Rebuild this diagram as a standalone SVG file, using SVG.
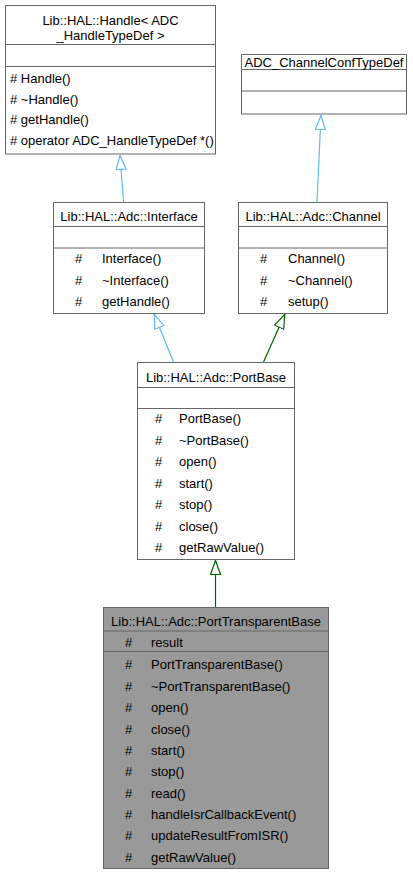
<svg xmlns="http://www.w3.org/2000/svg" width="413" height="875" viewBox="0 0 413 875">
<style>
text{font-family:"Liberation Sans",Arial,sans-serif;font-size:13px;fill:#000}
.box{fill:#fff;stroke:#666;stroke-width:1}
.cur{fill:#999;stroke:#666;stroke-width:1}
.div{stroke:#666;stroke-width:1}
.t{text-anchor:middle}
.pub{fill:none;stroke:#63b8ff;stroke-width:1.2}
.pro{fill:none;stroke:#006400;stroke-width:1.2}
</style>
<defs>
<marker id="ab" viewBox="0 0 15 11" refX="15" refY="5.5" markerWidth="15" markerHeight="11" markerUnits="userSpaceOnUse" orient="auto">
<path d="M0.5,0.5 L14.5,5.5 L0.5,10.5 Z" fill="#fff" stroke="#63b8ff" stroke-width="1.2"/>
</marker>
<marker id="ag" viewBox="0 0 15 11" refX="15" refY="5.5" markerWidth="15" markerHeight="11" markerUnits="userSpaceOnUse" orient="auto">
<path d="M0.5,0.5 L14.5,5.5 L0.5,10.5 Z" fill="#fff" stroke="#006400" stroke-width="1.2"/>
</marker>
</defs>
<g id="edges">
<path class="pub" d="M123.5,202 L120,155" marker-end="url(#ab)"/>
<path class="pub" d="M317,202 L321,115" marker-end="url(#ab)"/>
<path class="pub" d="M173.5,362 L154,314" marker-end="url(#ab)"/>
<path class="pro" d="M263.5,362 L285,314" marker-end="url(#ag)"/>
<path class="pro" d="M215.5,607 L215.5,560" marker-end="url(#ag)"/>
</g>
<g id="node-handle">
<rect class="box" x="5.5" y="5.5" width="210" height="148.5"/>
<line class="div" x1="5.5" y1="44.5" x2="215.5" y2="44.5"/>
<line class="div" x1="5.5" y1="66.5" x2="215.5" y2="66.5"/>
<text class="t" x="110.5" y="25">Lib::HAL::Handle&lt; ADC</text>
<text class="t" x="110.5" y="40">_HandleTypeDef &gt;</text>
<text x="10" y="83"># Handle()</text>
<text x="10" y="103.5"># ~Handle()</text>
<text x="10" y="124"># getHandle()</text>
<text x="10" y="144.5"># operator ADC_HandleTypeDef *()</text>
</g>
<g id="node-adcconf">
<rect class="box" x="241.5" y="54.5" width="165" height="59.5"/>
<line class="div" x1="241.5" y1="69.5" x2="406.5" y2="69.5"/>
<line class="div" x1="241.5" y1="91" x2="406.5" y2="91"/>
<text class="t" x="324" y="66.5">ADC_ChannelConfTypeDef</text>
</g>
<g id="node-interface">
<rect class="box" x="53.5" y="202.5" width="151" height="111"/>
<line class="div" x1="53.5" y1="226.5" x2="204.5" y2="226.5"/>
<line class="div" x1="53.5" y1="248" x2="204.5" y2="248"/>
<text class="t" x="129" y="221">Lib::HAL::Adc::Interface</text>
<text x="75" y="263">#</text><text x="102" y="263">Interface()</text>
<text x="75" y="284.5">#</text><text x="102" y="284.5">~Interface()</text>
<text x="75" y="306">#</text><text x="102" y="306">getHandle()</text>
</g>
<g id="node-channel">
<rect class="box" x="238.5" y="202.5" width="149" height="111"/>
<line class="div" x1="238.5" y1="226.5" x2="387.5" y2="226.5"/>
<line class="div" x1="238.5" y1="248" x2="387.5" y2="248"/>
<text class="t" x="313" y="221">Lib::HAL::Adc::Channel</text>
<text x="260" y="263">#</text><text x="288" y="263">Channel()</text>
<text x="260" y="284.5">#</text><text x="288" y="284.5">~Channel()</text>
<text x="260" y="306">#</text><text x="288" y="306">setup()</text>
</g>
<g id="node-portbase">
<rect class="box" x="137.5" y="362.5" width="157" height="197"/>
<line class="div" x1="137.5" y1="387.5" x2="294.5" y2="387.5"/>
<line class="div" x1="137.5" y1="408.5" x2="294.5" y2="408.5"/>
<text class="t" x="216" y="381.5">Lib::HAL::Adc::PortBase</text>
<text x="155" y="423">#</text><text x="179" y="423">PortBase()</text>
<text x="155" y="444.5">#</text><text x="179" y="444.5">~PortBase()</text>
<text x="155" y="466">#</text><text x="179" y="466">open()</text>
<text x="155" y="487.5">#</text><text x="179" y="487.5">start()</text>
<text x="155" y="509">#</text><text x="179" y="509">stop()</text>
<text x="155" y="530.5">#</text><text x="179" y="530.5">close()</text>
<text x="155" y="552">#</text><text x="179" y="552">getRawValue()</text>
</g>
<g id="node-porttransparentbase">
<rect class="cur" x="103.5" y="607.5" width="225" height="261"/>
<line class="div" x1="103.5" y1="631" x2="328.5" y2="631"/>
<line class="div" x1="103.5" y1="651.5" x2="328.5" y2="651.5"/>
<text class="t" x="216" y="626">Lib::HAL::Adc::PortTransparentBase</text>
<text x="125" y="647">#</text><text x="151" y="647">result</text>
<text x="125" y="669">#</text><text x="151" y="669">PortTransparentBase()</text>
<text x="125" y="690.5">#</text><text x="151" y="690.5">~PortTransparentBase()</text>
<text x="125" y="711.5">#</text><text x="151" y="711.5">open()</text>
<text x="125" y="733.5">#</text><text x="151" y="733.5">close()</text>
<text x="125" y="754.5">#</text><text x="151" y="754.5">start()</text>
<text x="125" y="776">#</text><text x="151" y="776">stop()</text>
<text x="125" y="797.5">#</text><text x="151" y="797.5">read()</text>
<text x="125" y="818.5">#</text><text x="151" y="818.5">handleIsrCallbackEvent()</text>
<text x="125" y="840">#</text><text x="151" y="840">updateResultFromISR()</text>
<text x="125" y="861.5">#</text><text x="151" y="861.5">getRawValue()</text>
</g>
</svg>
